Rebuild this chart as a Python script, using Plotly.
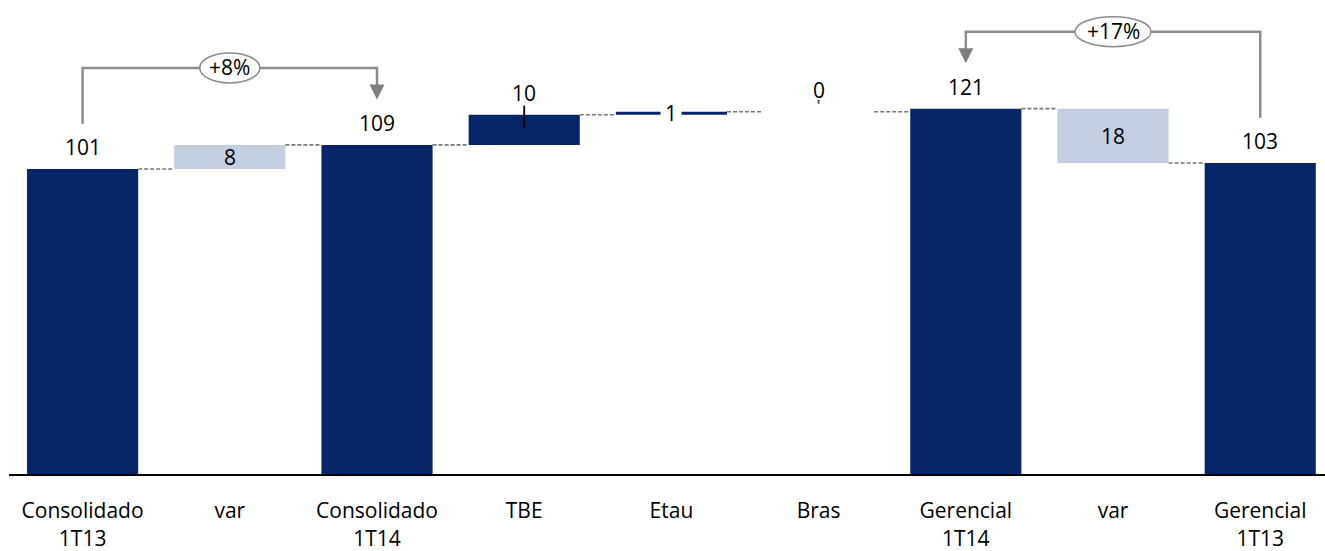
import plotly.graph_objects as go

# ---- data -------------------------------------------------------------
categories = ["Consolidado<br>1T13", "var", "Consolidado<br>1T14", "TBE", "Etau",
              "Bras", "Gerencial<br>1T14", "var", "Gerencial<br>1T13"]
values = [101, 8, 109, 10, 1, 0, 121, 18, 103]
bases = [0, 101, 0, 109, 119, 120, 0, 103, 0]
kinds = ["total", "var", "total", "step", "step", "step", "total", "var", "total"]

# growth brackets: (from index, to index, label)
growth_from = [0, 8]
growth_to = [2, 6]
growth_labels = ["+8%", "+17%"]

# ---- styling ----------------------------------------------------------
NAVY = "rgb(6,38,103)"
LIGHT = "rgb(195,206,224)"
GREY = "rgb(140,140,140)"
FONT = "Open Sans"
FS = 21
BAR_W = 0.755

x = list(range(len(categories)))
tops = [b + v for b, v in zip(bases, values)]

fig = go.Figure()

dark_idx = [i for i, k in enumerate(kinds) if k != "var"]
light_idx = [i for i, k in enumerate(kinds) if k == "var"]

fig.add_trace(go.Bar(
    x=[x[i] for i in dark_idx], y=[values[i] for i in dark_idx],
    base=[bases[i] for i in dark_idx], width=BAR_W,
    marker=dict(color=NAVY, line=dict(width=0)), hoverinfo="skip"))
fig.add_trace(go.Bar(
    x=[x[i] for i in light_idx], y=[values[i] for i in light_idx],
    base=[bases[i] for i in light_idx], width=BAR_W,
    marker=dict(color=LIGHT, line=dict(width=0)), hoverinfo="skip"))

shapes = []
annotations = []

# dashed connectors between neighbouring bars
for i in range(len(x) - 1):
    a = {tops[i]} | ({bases[i]} if bases[i] > 0 else set())
    b = {tops[i + 1]} | ({bases[i + 1]} if bases[i + 1] > 0 else set())
    common = a & b
    level = common.pop() if common else tops[i]
    shapes.append(dict(type="line", xref="x", yref="y",
                       x0=x[i] + BAR_W / 2, x1=x[i + 1] - BAR_W / 2,
                       y0=level, y1=level,
                       line=dict(color="rgb(120,120,120)", width=1.6, dash="4px,2px")))

# value labels
for i, (k, v) in enumerate(zip(kinds, values)):
    if k == "var":
        annotations.append(dict(x=x[i], y=bases[i] + v / 2, text=str(v), showarrow=False,
                                 font=dict(size=FS, color="black", family=FONT),
                                 yanchor="middle"))
    elif k == "step" and 0 < v < 3:
        annotations.append(dict(x=x[i], y=bases[i] + v / 2, text=str(v), showarrow=False,
                                 font=dict(size=FS, color="black", family=FONT),
                                 bgcolor="white", borderpad=4, yanchor="middle"))
    else:
        annotations.append(dict(x=x[i], y=tops[i], text=str(v), showarrow=False,
                                 font=dict(size=FS, color="black", family=FONT),
                                 yanchor="middle", yshift=22))
        if k == "step":
            # short leader line under the label
            if v > 0:
                y0, y1 = -13, 9
                col = "black"
            else:
                y0, y1 = 8, 12
                col = "rgb(70,70,70)"
            shapes.append(dict(type="line", xref="x", yref="y", ysizemode="pixel",
                               yanchor=tops[i], x0=x[i], x1=x[i], y0=y0, y1=y1,
                               line=dict(color=col, width=1.8)))

# growth brackets with arrowheads and ellipse labels
for f, t, lab in zip(growth_from, growth_to, growth_labels):
    y_start = tops[f] + 15
    y_tip = tops[t] + 15
    y_top = max(tops[f], tops[t]) + 25.5
    shapes.append(dict(type="path", xref="x", yref="y",
                       path=f"M {x[f]},{y_start} L {x[f]},{y_top} L {x[t]},{y_top} L {x[t]},{y_tip + 4}",
                       line=dict(color=GREY, width=2.5)))
    shapes.append(dict(type="path", xref="x", yref="y", xsizemode="pixel", ysizemode="pixel",
                       xanchor=x[t], yanchor=y_tip,
                       path="M -7.5,15 L 7.5,15 L 0,0 Z",
                       fillcolor="rgb(128,128,128)", line=dict(width=0)))
    xm = (x[f] + x[t]) / 2
    w = 12 + 16 * len(lab)
    shapes.append(dict(type="circle", xref="x", yref="y", xsizemode="pixel", ysizemode="pixel",
                       xanchor=xm, yanchor=y_top, x0=-w / 2, x1=w / 2, y0=-15, y1=15,
                       fillcolor="white", line=dict(color=GREY, width=1.5)))
    annotations.append(dict(x=xm, y=y_top, text=lab, showarrow=False,
                             font=dict(size=FS, color="black", family=FONT),
                             yanchor="middle", yshift=1))

fig.update_layout(
    width=1325, height=551,
    margin=dict(l=9, r=0, t=6, b=77),
    paper_bgcolor="white", plot_bgcolor="white",
    barmode="overlay", showlegend=False,
    shapes=shapes, annotations=annotations,
    font=dict(family=FONT, size=FS, color="black"),
    xaxis=dict(range=[-0.5, 8.44], tickmode="array", tickvals=x, ticktext=categories,
               showline=True, linecolor="black", linewidth=2, showgrid=False,
               zeroline=False, ticks="", ticklabelstandoff=17,
               tickfont=dict(size=FS, family=FONT, color="black")),
    yaxis=dict(range=[0, 155], visible=False, showgrid=False, zeroline=False),
)

fig.write_html("out.html")
